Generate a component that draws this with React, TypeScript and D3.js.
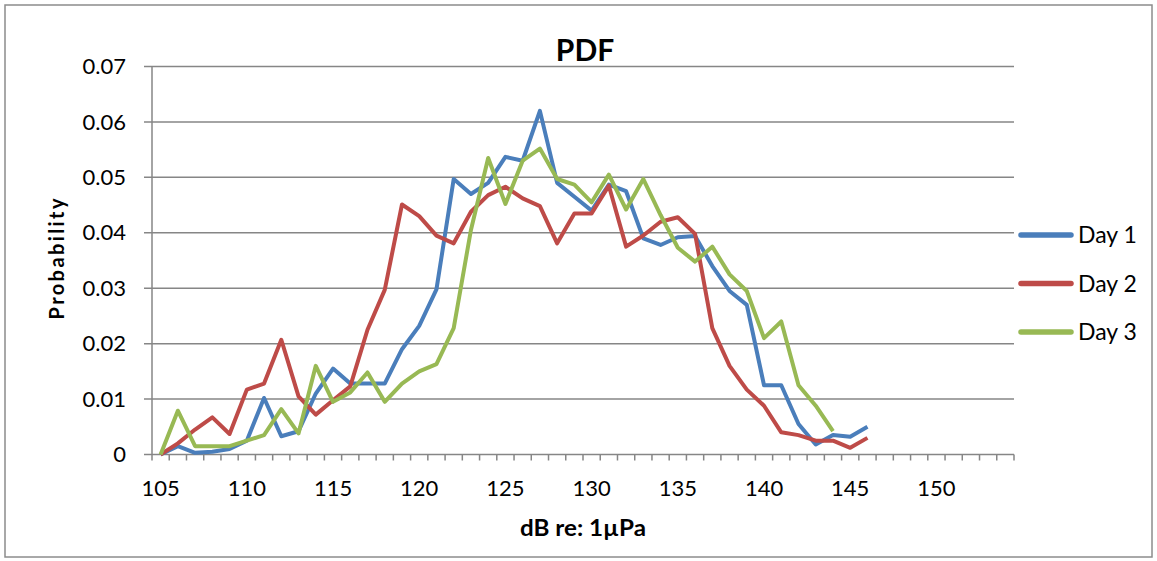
import React from "react";
import * as d3 from "d3";

const categories: number[] = d3.range(105, 155);
const tickLabels: number[] = [105, 110, 115, 120, 125, 130, 135, 140, 145, 150];
const yTicks: number[] = [0, 0.01, 0.02, 0.03, 0.04, 0.05, 0.06, 0.07];

const day1: number[] = [
  0, 0.0015, 0.0003, 0.0005, 0.001, 0.0025, 0.0102, 0.0033, 0.0042, 0.011,
  0.0155, 0.0128, 0.0128, 0.0128, 0.019, 0.0232, 0.0298, 0.0497, 0.047, 0.049,
  0.0537, 0.053, 0.062, 0.049, 0.0465, 0.044, 0.0487, 0.0475, 0.039, 0.0378,
  0.0392, 0.0394, 0.034, 0.0295, 0.027, 0.0125, 0.0125, 0.0055, 0.0018, 0.0035,
  0.0032, 0.005,
];
const day2: number[] = [
  0, 0.002, 0.0045, 0.0067, 0.0037, 0.0117, 0.0128, 0.0207, 0.0105, 0.0072,
  0.0098, 0.0123, 0.0225, 0.0297, 0.0451, 0.043, 0.0395, 0.0381, 0.0438, 0.0468,
  0.0483, 0.0462, 0.0448, 0.0381, 0.0435, 0.0435, 0.0485, 0.0375, 0.0395, 0.042,
  0.0428, 0.0398, 0.0228, 0.016, 0.0117, 0.0088, 0.004, 0.0035, 0.0025, 0.0025,
  0.0012, 0.003,
];
const day3: number[] = [
  0, 0.0079, 0.0015, 0.0015, 0.0015, 0.0025, 0.0035, 0.0082, 0.0038, 0.016,
  0.0095, 0.0112, 0.0148, 0.0095, 0.0128, 0.015, 0.0163, 0.0228, 0.0405, 0.0535,
  0.0452, 0.053, 0.0552, 0.0497, 0.0487, 0.0455, 0.0505, 0.0442, 0.0497, 0.0432,
  0.0373, 0.0348, 0.0375, 0.0325, 0.0295, 0.021, 0.024, 0.0125, 0.0088, 0.0042,
];

const seriesNames = ["Day 1", "Day 2", "Day 3"];
const seriesColors = ["#4A7EBB", "#BE4B48", "#98B954"];
const seriesData = [day1, day2, day3];

const W = 1157;
const H = 561;
const plot = { left: 152, right: 1014, top: 66.5, bottom: 454.5 };
const FONT = "Lato, 'Open Sans', sans-serif";

export default function App() {
  const x = d3
    .scaleBand<number>()
    .domain(categories)
    .range([plot.left, plot.right])
    .paddingInner(0)
    .paddingOuter(0);
  const y = d3.scaleLinear().domain([0, 0.07]).range([plot.bottom, plot.top]);
  const cx = (c: number) => (x(c) as number) + x.bandwidth() / 2;

  const line = (arr: number[]) =>
    d3
      .line<number>()
      .x((_, i) => cx(categories[i]))
      .y((v) => y(v))(arr) as string;

  const tickEdges = d3.range(categories.length + 1).map(
    (i) => plot.left + i * x.bandwidth()
  );

  return (
    <svg
      width={W}
      height={H}
      style={{ position: "absolute", left: 0, top: 0, background: "#fff" }}
      fontFamily={FONT}
    >
      <rect x={5} y={5} width={1147} height={552} fill="#fff" stroke="#8c8c8c" strokeWidth={1.5} />
      {/* gridlines */}
      {yTicks.map((t) => (
        <g key={t}>
          <line
            x1={plot.left - 8}
            x2={plot.right}
            y1={y(t)}
            y2={y(t)}
            stroke="#868686"
            strokeWidth={1.5}
          />
          <text
            x={126}
            y={y(t)}
            dy="0.35em"
            textAnchor="end"
            fontSize={22}
            fill="#000"
          >
            {t === 0 ? "0" : t.toFixed(2)}
          </text>
        </g>
      ))}
      {/* y axis */}
      <line x1={plot.left} x2={plot.left} y1={plot.top} y2={plot.bottom} stroke="#868686" strokeWidth={1.5} />
      {/* x tick marks */}
      {tickEdges.map((e, i) => (
        <line key={i} x1={e} x2={e} y1={plot.bottom} y2={plot.bottom + 6} stroke="#868686" strokeWidth={1.5} />
      ))}
      {tickLabels.map((t) => (
        <text key={t} x={cx(t)} y={496} textAnchor="middle" fontSize={22} fill="#000">
          {t}
        </text>
      ))}
      {/* series */}
      {seriesData.map((d, i) => (
        <path
          key={i}
          d={line(d)}
          fill="none"
          stroke={seriesColors[i]}
          strokeWidth={4}
          strokeLinejoin="round"
        />
      ))}
      {/* titles */}
      <text x={585} y={61} textAnchor="middle" fontSize={30} fontWeight="bold">
        PDF
      </text>
      <text
        transform={`translate(64,259) rotate(-90)`}
        textAnchor="middle"
        fontSize={20}
        fontWeight="bold"
        textLength={121}
        lengthAdjust="spacing"
      >
        Probability
      </text>
      <text
        x={583}
        y={536}
        textAnchor="middle"
        fontSize={22}
        fontWeight="bold"
        textLength={126}
        lengthAdjust="spacingAndGlyphs"
      >
        dB re: 1µPa
      </text>
      {/* legend */}
      {seriesNames.map((n, i) => (
        <g key={n}>
          <line
            x1={1021}
            x2={1071}
            y1={235 + i * 48.5}
            y2={235 + i * 48.5}
            stroke={seriesColors[i]}
            strokeWidth={5.5}
            strokeLinecap="round"
          />
          <text x={1078} y={235 + i * 48.5} dy="0.35em" fontSize={23}>
            {n}
          </text>
        </g>
      ))}
    </svg>
  );
}
